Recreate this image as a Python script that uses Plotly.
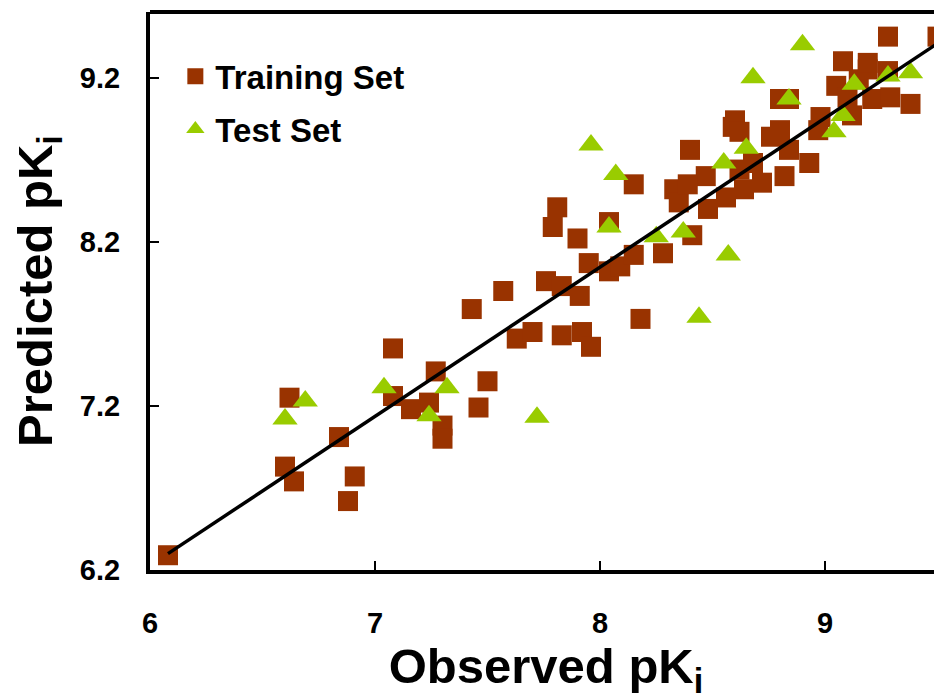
import plotly.graph_objects as go

# ---- data ----
train_x = [6.08, 6.62, 6.60, 6.64, 6.84, 6.91, 6.88, 7.08, 7.08, 7.16, 7.24, 7.27, 7.30, 7.30,
           7.43, 7.50, 7.46, 7.57, 7.63, 7.70, 7.76, 7.83, 7.91, 7.83, 7.92, 7.96, 7.81, 7.79,
           7.90, 7.95, 8.04, 8.09, 8.04, 8.15, 8.18, 8.15, 8.28, 8.40, 8.33, 8.35, 8.41, 8.47,
           8.48, 8.56, 8.59, 8.64, 8.72, 8.62, 8.68, 8.60, 8.62, 8.76, 8.80, 8.84, 8.82, 8.93,
           8.98, 8.97, 8.80, 8.84, 9.05, 9.08, 9.10, 9.12, 9.15, 9.19, 9.19, 9.21, 9.28, 9.29,
           9.28, 9.38, 9.50, 8.39]
train_y = [6.29, 7.25, 6.83, 6.74, 7.01, 6.77, 6.62, 7.55, 7.26, 7.18, 7.22, 7.41, 7.08, 7.00,
           7.79, 7.35, 7.19, 7.90, 7.61, 7.65, 7.96, 7.93, 7.87, 7.63, 7.65, 7.56, 8.41, 8.29,
           8.22, 8.07, 8.02, 8.05, 8.32, 8.12, 7.73, 8.55, 8.13, 8.76, 8.52, 8.44, 8.24, 8.60,
           8.40, 8.47, 8.90, 8.52, 8.56, 8.64, 8.68, 8.94, 8.87, 8.84, 8.88, 8.76, 8.60, 8.68,
           8.96, 8.88, 9.07, 9.07, 9.15, 9.30, 9.08, 8.97, 9.19, 9.25, 9.29, 9.07, 9.24, 9.08,
           9.45, 9.04, 9.45, 8.55]

test_x = [6.60, 6.69, 7.04, 7.32, 7.24, 7.72, 7.96, 8.07, 8.04, 8.25, 8.37, 8.44, 8.55, 8.57,
          8.65, 8.68, 8.84, 8.90, 9.04, 9.08, 9.13, 9.28, 9.38]
test_y = [7.12, 7.23, 7.31, 7.31, 7.14, 7.13, 8.79, 8.61, 8.29, 8.23, 8.26, 7.74, 8.68, 8.12,
          8.77, 9.20, 9.07, 9.40, 8.87, 8.97, 9.16, 9.21, 9.23]

fit_slope = 0.909
fit_intercept = 0.773
fit_x_range = [6.08, 9.50]

x_ticks = [6, 7, 8, 9]
y_ticks = [6.2, 7.2, 8.2, 9.2]
y_tick_labels = ["6.2", "7.2", "8.2", "9.2"]

x_title = "Observed pK<sub>i</sub>"
y_title = "Predicted pK<sub>i</sub>"
train_name = "Training Set"
test_name = "Test Set"

BROWN = "#993300"
GREEN = "#99cc00"
FONT = "Liberation Sans, Arial, sans-serif"

fit_y = [fit_slope * v + fit_intercept for v in fit_x_range]

fig = go.Figure()
fig.add_trace(go.Scatter(
    x=train_x, y=train_y, mode="markers", name=train_name, legendgroup="train",
    marker=dict(symbol="square", size=20, color=BROWN, line=dict(width=0)),
))
fig.add_trace(go.Scatter(
    x=test_x, y=test_y, mode="markers", name=test_name, legendgroup="test",
    marker=dict(symbol="triangle-up", size=22, color=GREEN, line=dict(width=0)),
))
fig.add_trace(go.Scatter(
    x=fit_x_range, y=fit_y, mode="lines", showlegend=False,
    line=dict(color="black", width=3.5),
))

# page body has an 8px margin: figure sized to fill the rest of the 942x700 window
fig.update_layout(
    width=934, height=692,
    margin=dict(l=142, r=0, t=4, b=130, autoexpand=False),
    paper_bgcolor="white", plot_bgcolor="white",
    font=dict(family=FONT, color="black", weight="bold"),
    showlegend=True,
    legend=dict(
        x=0.032, y=0.935, xanchor="left", yanchor="top",
        bgcolor="rgba(0,0,0,0)", tracegroupgap=7,
        font=dict(size=33, family=FONT, color="black", weight="bold"),
        itemsizing="trace",
    ),
    xaxis=dict(
        range=[6, 9.52], tickvals=x_ticks, ticks="inside", ticklen=9, tickwidth=2,
        tickcolor="black", showline=True, linewidth=4, linecolor="black",
        showgrid=False, zeroline=False, mirror=False, automargin=False,
        tickfont=dict(size=29, family=FONT, weight="bold"),
        ticklabelstandoff=24,
        title=dict(text=x_title, font=dict(size=49, family=FONT, weight="bold"), standoff=2),
    ),
    yaxis=dict(
        range=[6.2, 9.6], tickvals=y_ticks, ticktext=y_tick_labels, ticks="inside",
        ticklen=9, tickwidth=2, tickcolor="black", showline=True, linewidth=4,
        linecolor="black", showgrid=False, zeroline=False, mirror=False, automargin=False,
        tickfont=dict(size=29, family=FONT, weight="bold"),
        ticklabelstandoff=20,
        title=dict(text=y_title, font=dict(size=49, family=FONT, weight="bold"), standoff=24),
    ),
    shapes=[dict(type="line", xref="paper", yref="paper", x0=0, x1=1, y0=1, y1=1,
                 line=dict(color="black", width=4))],
)

fig.write_html("out.html")
